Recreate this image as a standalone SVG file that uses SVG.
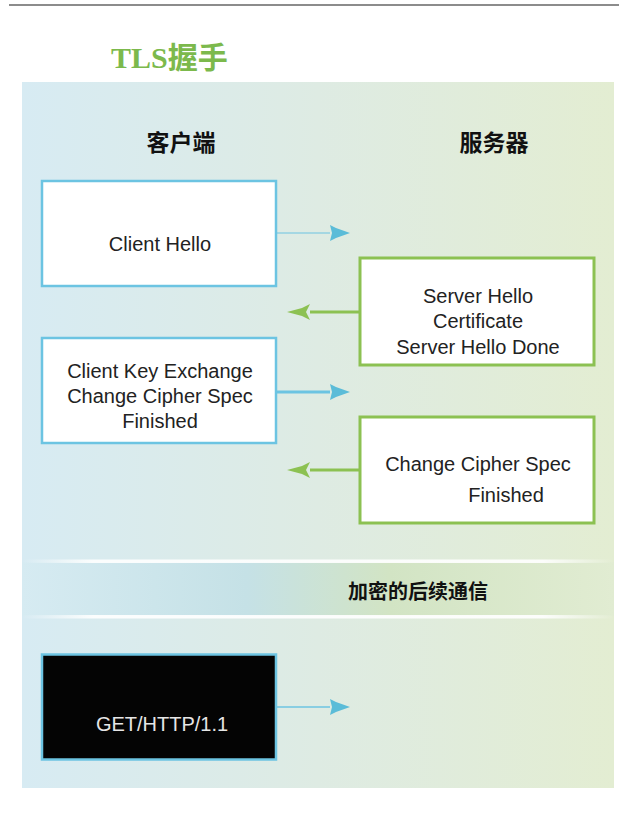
<svg xmlns="http://www.w3.org/2000/svg" width="619" height="820" viewBox="0 0 619 820">
<style>
.lbl{font-family:"Liberation Sans",Arial,sans-serif;font-size:20px;fill:#222;text-anchor:middle}
.hdr{font-family:"Noto Sans CJK SC",sans-serif;font-size:23px;font-weight:bold;fill:#111;text-anchor:middle}
.cbox{fill:#fff;stroke:#6cc4e2;stroke-width:2.5}
.sbox{fill:#fff;stroke:#8cc152;stroke-width:3}
.bl{stroke:#6cc4e2;fill:none}
.gl{stroke:#8cc152;fill:none;stroke-width:3}
</style>
<defs>
<linearGradient id="panel" x1="0" y1="0" x2="1" y2="0">
<stop offset="0" stop-color="#d7ebf3"/>
<stop offset="0.5" stop-color="#deebe3"/>
<stop offset="1" stop-color="#e3edd2"/>
</linearGradient>
<linearGradient id="band" x1="0" y1="0" x2="1" y2="0">
<stop offset="0" stop-color="#d6ebf2"/>
<stop offset="0.38" stop-color="#c5e1e6"/>
<stop offset="0.62" stop-color="#d2e4c4"/>
<stop offset="1" stop-color="#e1ecd2"/>
</linearGradient>
<linearGradient id="wline" x1="0" y1="0" x2="1" y2="0">
<stop offset="0" stop-color="#fff" stop-opacity="0"/>
<stop offset="0.12" stop-color="#fff" stop-opacity="0.9"/>
<stop offset="0.88" stop-color="#fff" stop-opacity="0.9"/>
<stop offset="1" stop-color="#fff" stop-opacity="0"/>
</linearGradient>
<marker id="bh" markerUnits="userSpaceOnUse" markerWidth="22" markerHeight="18" viewBox="0 0 22 18" refX="0" refY="8" orient="auto">
<path d="M0,0 L6,3 L20,8 L6,13 L0,16 L2,8 Z" fill="#5bbcd8"/>
</marker>
<marker id="gh" markerUnits="userSpaceOnUse" markerWidth="24" markerHeight="18" viewBox="0 0 24 18" refX="0" refY="8" orient="auto">
<path d="M0,0 L8,4 L23,8 L8,12 L0,16 L4,8 Z" fill="#8cc152"/>
</marker>
</defs>

<line x1="9" y1="5" x2="619" y2="5" stroke="#666" stroke-width="1.5"/>
<text x="111" y="68" font-family="'Liberation Serif','Noto Sans CJK SC',serif" font-size="30" font-weight="bold" fill="#7cb94c">TLS握手</text>

<rect x="22" y="82" width="592" height="706" fill="url(#panel)"/>

<text class="hdr" x="181" y="151">客户端</text>
<text class="hdr" x="494" y="151">服务器</text>

<g id="band-section">
<rect x="22" y="562" width="592" height="54" fill="url(#band)"/>
<rect x="22" y="559.5" width="592" height="3.5" fill="url(#wline)"/>
<rect x="22" y="615" width="592" height="3.5" fill="url(#wline)"/>
<text x="418" y="599" font-family="'Noto Sans CJK SC',sans-serif" font-size="20" font-weight="bold" fill="#111" text-anchor="middle">加密的后续通信</text>
</g>

<g id="client-hello">
<rect class="cbox" x="42" y="181" width="234" height="105"/>
<text class="lbl" x="160" y="251">Client Hello</text>
</g>

<g id="server-hello">
<rect class="sbox" x="360" y="258" width="234" height="107"/>
<text class="lbl" x="478" y="303">Server Hello</text>
<text class="lbl" x="478" y="328">Certificate</text>
<text class="lbl" x="478" y="354">Server Hello Done</text>
</g>

<g id="client-key-exchange">
<rect class="cbox" x="42" y="338" width="234" height="105"/>
<text class="lbl" x="160" y="378">Client Key Exchange</text>
<text class="lbl" x="160" y="403">Change Cipher Spec</text>
<text class="lbl" x="160" y="428">Finished</text>
</g>

<g id="server-finished">
<rect class="sbox" x="360" y="417" width="234" height="106"/>
<text class="lbl" x="478" y="471">Change Cipher Spec</text>
<text class="lbl" x="506" y="502">Finished</text>
</g>

<g id="get-request">
<rect x="42" y="654.5" width="234" height="105" fill="#040404" stroke="#6cc4e2" stroke-width="2.5"/>
<text class="lbl" x="162" y="731" fill="#e8e8e8" style="fill:#e6e6e6" font-size="19">GET/HTTP/1.1</text>
</g>

<g id="connectors">
<line class="bl" x1="277" y1="233" x2="330" y2="233" stroke-width="1.2" marker-end="url(#bh)"/>
<line class="gl" x1="360" y1="312" x2="310" y2="312" marker-end="url(#gh)"/>
<line class="bl" x1="277" y1="392" x2="330" y2="392" stroke-width="3" marker-end="url(#bh)"/>
<line class="gl" x1="360" y1="470" x2="310" y2="470" marker-end="url(#gh)"/>
<line class="bl" x1="277" y1="707" x2="330" y2="707" stroke-width="1.5" marker-end="url(#bh)"/>
</g>
</svg>
